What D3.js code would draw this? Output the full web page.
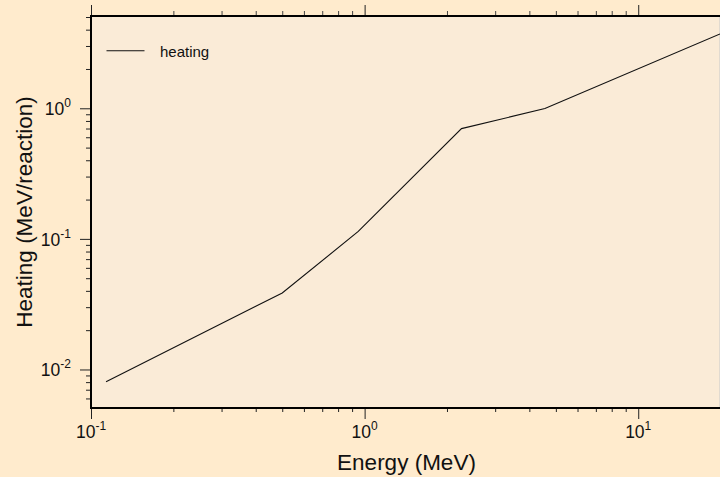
<!DOCTYPE html>
<html>
<head>
<meta charset="utf-8">
<script src="https://cdn.jsdelivr.net/npm/d3@7"></script>
<style>
  html, body { margin: 0; padding: 0; background: #FFEBCD; }
  svg { display: block; font-family: "Liberation Sans", Arial, Helvetica, sans-serif; }
</style>
</head>
<body>
<svg id="chart" width="720" height="477"></svg>
<script>
// Energy-dependent heating per reaction
const energy  = [0.1135, 0.5, 0.948, 2.26, 4.56, 19.9];   // MeV
const heating = [0.00807, 0.0385, 0.114, 0.699, 0.995, 3.71]; // MeV/reaction

const xMajorTicks = [0.1, 1, 10];
const xTickExps   = ["-1", "0", "1"];
const yMajorTicks = [0.01, 0.1, 1];
const yTickExps   = ["-2", "-1", "0"];

const seriesName = "heating";
const xTitle = "Energy (MeV)";
const yTitle = "Heating (MeV/reaction)";

const plot = { left: 91, right: 720, top: 16, bottom: 408 };

const svg = d3.select("#chart");

const x = d3.scaleLog().domain([0.1, 19.9]).range([plot.left, plot.right]);
const y = d3.scaleLog().domain([0.00507, 5.09]).range([plot.bottom, plot.top]);

// minor ticks: 2..9 within each decade, kept inside the domain
function minorTicks(scale) {
  const [a, b] = scale.domain();
  const out = [];
  for (let e = Math.floor(Math.log10(a)); e <= Math.ceil(Math.log10(b)); e++) {
    for (let m = 2; m <= 9; m++) {
      const v = m * Math.pow(10, e);
      if (v >= a * 0.999 && v <= b * 1.001) out.push(v);
    }
  }
  return out;
}
const xMinor = minorTicks(x);
const yMinor = minorTicks(y);

// plot background
svg.append("rect")
  .attr("x", plot.left).attr("y", plot.top)
  .attr("width", plot.right - plot.left).attr("height", plot.bottom - plot.top)
  .attr("fill", "#FAEBD7")
  .attr("stroke", "#c8c8c8").attr("stroke-width", 1);

// tick marks drawn through d3 axes
function drawTicks(axisFn, values, size, transform, color) {
  const g = svg.append("g")
    .attr("transform", transform)
    .call(axisFn.tickValues(values).tickSize(size).tickFormat(""));
  g.select(".domain").remove();
  g.selectAll(".tick line").attr("stroke", color).attr("stroke-width", 1);
  return g;
}
drawTicks(d3.axisBottom(x), xMajorTicks, 11, `translate(0,${plot.bottom})`, "#222");
drawTicks(d3.axisBottom(x), xMinor, 4, `translate(0,${plot.bottom})`, "#222");
drawTicks(d3.axisTop(x), xMajorTicks, 11, `translate(0,${plot.top})`, "#222");
drawTicks(d3.axisTop(x), xMinor, 5, `translate(0,${plot.top})`, "#444");
drawTicks(d3.axisLeft(y), yMajorTicks, 11, `translate(${plot.left},0)`, "#222");
drawTicks(d3.axisLeft(y), yMinor, 5, `translate(${plot.left},0)`, "#222");

// axis frame lines (left, bottom, top)
const frame = svg.append("g").attr("stroke", "#000").attr("stroke-width", 2).attr("fill", "none");
frame.append("line").attr("x1", plot.left).attr("x2", plot.left).attr("y1", plot.top - 1).attr("y2", plot.bottom + 1);
frame.append("line").attr("x1", plot.left - 1).attr("x2", plot.right).attr("y1", plot.bottom).attr("y2", plot.bottom);
frame.append("line").attr("x1", plot.left - 1).attr("x2", plot.right).attr("y1", plot.top).attr("y2", plot.top);

// tick labels: 10 with superscript exponent
const xl = svg.append("g").attr("fill", "#111").attr("font-size", 17.5);
xMajorTicks.forEach((v, i) => {
  const t = xl.append("text").attr("x", x(v)).attr("y", 438).attr("text-anchor", "middle");
  t.append("tspan").text("10");
  t.append("tspan").attr("font-size", 12).attr("dy", -8).text(xTickExps[i]);
});
const yl = svg.append("g").attr("fill", "#111").attr("font-size", 17.5);
yMajorTicks.forEach((v, i) => {
  const t = yl.append("text").attr("x", 71).attr("y", y(v) + 7).attr("text-anchor", "end");
  t.append("tspan").text("10");
  t.append("tspan").attr("font-size", 12).attr("dy", -8).text(yTickExps[i]);
});

// data line
const line = d3.line().x((d, i) => x(energy[i])).y(d => y(d));
svg.append("path")
  .datum(heating)
  .attr("d", line)
  .attr("fill", "none")
  .attr("stroke", "#111")
  .attr("stroke-width", 1.1);

// legend
svg.append("line")
  .attr("x1", 106.5).attr("x2", 144.5).attr("y1", 50.7).attr("y2", 50.7)
  .attr("stroke", "#111").attr("stroke-width", 1.1);
svg.append("text")
  .attr("x", 160).attr("y", 56.5)
  .attr("font-size", 15).attr("fill", "#111")
  .text(seriesName);

// axis titles
svg.append("text")
  .attr("x", (plot.left + plot.right) / 2 + 1).attr("y", 470)
  .attr("text-anchor", "middle").attr("font-size", 22.5).attr("fill", "#111")
  .text(xTitle);
svg.append("text")
  .attr("transform", `translate(31.5,${(plot.top + plot.bottom) / 2}) rotate(-90)`)
  .attr("text-anchor", "middle").attr("font-size", 22.5).attr("fill", "#111")
  .text(yTitle);
</script>
</body>
</html>
